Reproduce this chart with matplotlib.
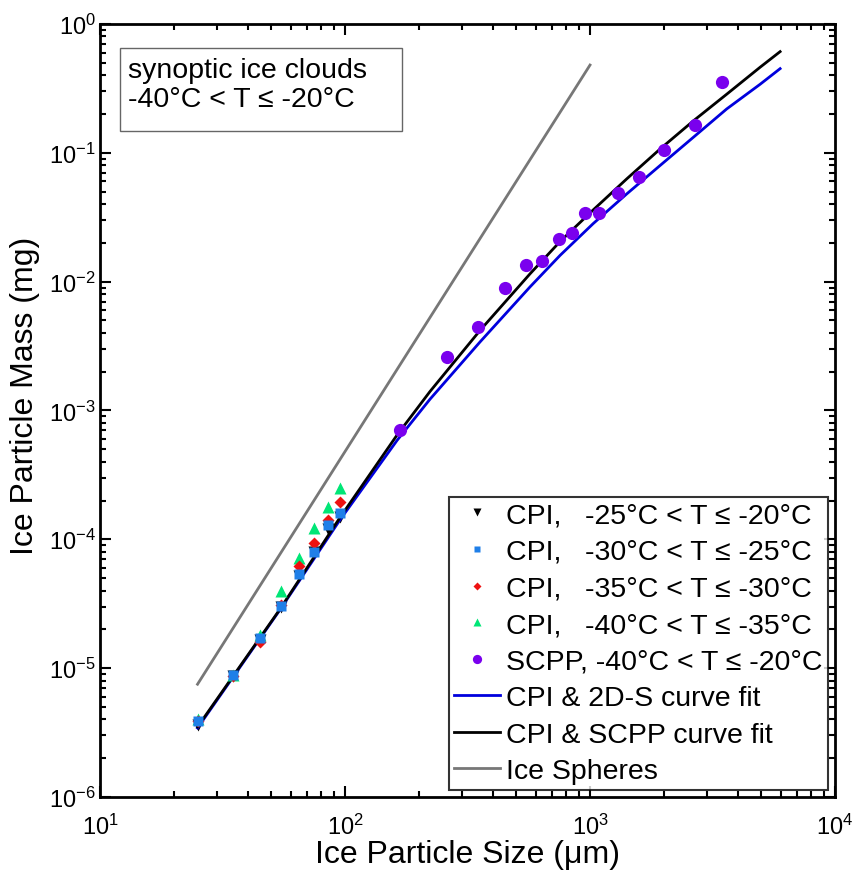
import matplotlib.pyplot as plt
from matplotlib.patches import Rectangle
from matplotlib.ticker import LogLocator, NullFormatter

plt.rcParams["font.family"] = ["Liberation Sans", "DejaVu Sans"]
plt.rcParams["mathtext.fontset"] = "custom"
plt.rcParams["mathtext.rm"] = "Liberation Sans"

# CPI size bins (um)
cpi_size = [25, 35, 45, 55, 65, 75, 85, 95]
cpi_25_20 = [3.6e-6, 8.7e-6, 1.65e-5, 3.0e-5, 5.2e-5, 8.0e-5, 1.2e-4, 1.5e-4]
cpi_30_25 = [3.9e-6, 8.8e-6, 1.7e-5, 3.06e-5, 5.36e-5, 8.0e-5, 1.3e-4, 1.6e-4]
cpi_35_30 = [3.9e-6, 8.7e-6, 1.6e-5, 3.1e-5, 6.25e-5, 9.4e-5, 1.4e-4, 1.96e-4]
cpi_40_35 = [4.0e-6, 8.9e-6, 1.8e-5, 3.98e-5, 7.2e-5, 1.22e-4, 1.79e-4, 2.52e-4]

# SCPP points
scpp_size = [168, 260, 350, 451, 548, 637, 745, 842, 957, 1091, 1305, 1589, 2010, 2684, 3449]
scpp_mass = [7.0e-4, 2.58e-3, 4.45e-3, 8.9e-3, 1.34e-2, 1.45e-2, 2.16e-2, 2.4e-2,
             3.43e-2, 3.43e-2, 4.87e-2, 6.48e-2, 0.106, 0.163, 0.357]

# curves
fit_scpp_size = [25, 54, 95, 163, 222, 356, 569, 755, 1030, 1413, 1932, 2642, 3614, 4943, 5970]
fit_scpp_mass = [3.5e-6, 2.83e-5, 1.46e-4, 6.44e-4, 1.40e-3, 4.19e-3, 1.15e-2, 2.05e-2,
                 3.6e-2, 6.28e-2, 0.107, 0.177, 0.285, 0.461, 0.61]
fit_2ds_size = [25, 54, 95, 163, 222, 356, 569, 755, 1030, 1413, 1932, 2642, 3614, 4943, 5970]
fit_2ds_mass = [3.43e-6, 2.8e-5, 1.40e-4, 5.85e-4, 1.22e-3, 3.41e-3, 9.1e-3, 1.6e-2,
                2.82e-2, 4.8e-2, 7.97e-2, 0.132, 0.219, 0.34, 0.45]
sphere_size = [25, 1000]
sphere_mass = [7.5e-6, 0.48]

fig = plt.figure(figsize=(8.58, 8.79), dpi=100)
ax = fig.add_axes([0.1166, 0.0922, 0.8566, 0.8794])

ax.plot(cpi_size, cpi_40_35, "^", color="#00e676", ms=8.5, mec="none",
        label="CPI,   -40°C < T ≤ -35°C", zorder=3)
ax.plot(cpi_size, cpi_35_30, "D", color="#ee1111", ms=6.5, mec="none",
        label="CPI,   -35°C < T ≤ -30°C", zorder=3)
ax.plot(cpi_size, cpi_30_25, "s", color="#1f7fe8", ms=6.5, mec="none",
        label="CPI,   -30°C < T ≤ -25°C", zorder=3)
ax.plot(cpi_size, cpi_25_20, "v", color="black", ms=8.5, mec="none",
        label="CPI,   -25°C < T ≤ -20°C", zorder=2)
ax.plot(scpp_size, scpp_mass, "o", color="#7a00ee", ms=9.5, mec="none",
        label="SCPP, -40°C < T ≤ -20°C", zorder=4)

ax.plot(fit_2ds_size, fit_2ds_mass, color="#0000dd", lw=2, label="CPI & 2D-S curve fit", zorder=2)
ax.plot(fit_scpp_size, fit_scpp_mass, color="black", lw=2, label="CPI & SCPP curve fit", zorder=2)
ax.plot(sphere_size, sphere_mass, color="#777777", lw=2, label="Ice Spheres", zorder=2)

ax.set_xscale("log")
ax.set_yscale("log")
ax.set_xlim(10, 1e4)
ax.set_ylim(1e-6, 1)

ax.xaxis.set_major_locator(LogLocator(base=10, numticks=10))
ax.yaxis.set_major_locator(LogLocator(base=10, numticks=10))
ax.xaxis.set_minor_locator(LogLocator(base=10, subs=range(2, 10), numticks=10))
ax.yaxis.set_minor_locator(LogLocator(base=10, subs=range(2, 10), numticks=10))
ax.xaxis.set_minor_formatter(NullFormatter())
ax.yaxis.set_minor_formatter(NullFormatter())
ax.tick_params(which="both", direction="in", top=True, right=True, labelsize=17, width=1.5)
ax.tick_params(which="major", length=8)
ax.tick_params(which="minor", length=4)
ax.tick_params(axis="x", which="major", pad=12)
ax.tick_params(axis="y", which="major", pad=3)
for s in ax.spines.values():
    s.set_linewidth(2)

ax.set_xlabel("Ice Particle Size (μm)", fontsize=23)
ax.set_ylabel("Ice Particle Mass (mg)", fontsize=23)
ax.xaxis.set_label_coords(0.5, -0.055)
ax.yaxis.set_label_coords(-0.082, 0.52)

# annotation box
ax.add_patch(Rectangle((0.0272, 0.8616), 0.3837, 0.1074, transform=ax.transAxes,
                       fc="white", ec="#666666", lw=1, zorder=5))
ax.text(0.038, 0.957, "synoptic ice clouds\n-40°C < T ≤ -20°C", transform=ax.transAxes,
        fontsize=20.5, va="top", ha="left", linespacing=1.15, zorder=6)

h, l = ax.get_legend_handles_labels()
order = [3, 2, 1, 0, 4, 5, 6, 7]
leg = ax.legend([h[i] for i in order], [l[i] for i in order], loc="lower right",
                fontsize=20.5, frameon=True, fancybox=False, edgecolor="black",
                markerscale=0.7, handlelength=1.6, handletextpad=0.2,
                labelspacing=0.37, borderpad=0.2, borderaxespad=0.25)
leg.get_frame().set_linewidth(1.5)

fig.savefig("out.png", dpi=100)
